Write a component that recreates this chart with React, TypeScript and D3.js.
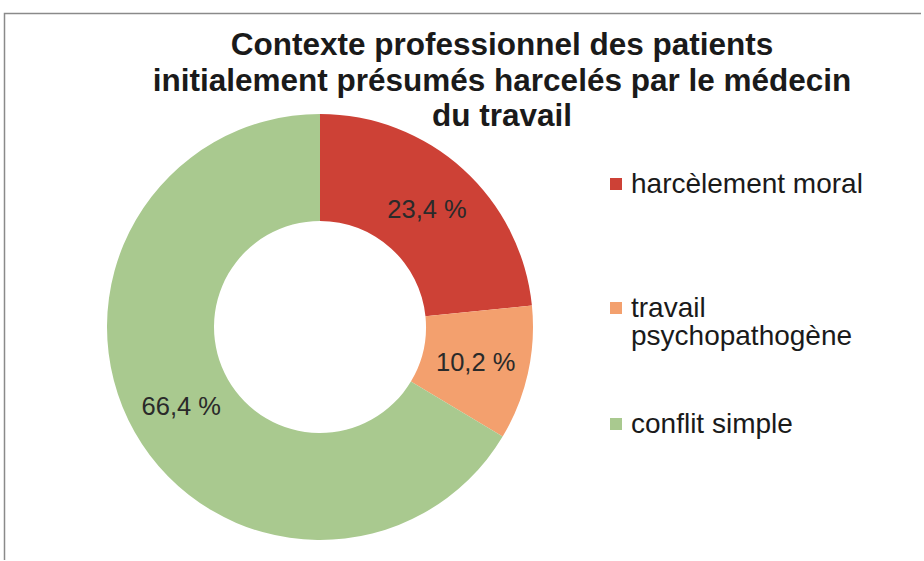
import React, { useEffect, useRef } from "react";
import * as d3 from "d3";

const categories = ["harcèlement moral", "travail psychopathogène", "conflit simple"];
const values = [23.4, 10.2, 66.4];
const labels = ["23,4 %", "10,2 %", "66,4 %"];
const colors = ["#cd4136", "#f3a06e", "#a9c98f"];
const legendLines = [["harcèlement moral"], ["travail", "psychopathogène"], ["conflit simple"]];
const titleLines = [
  "Contexte professionnel des patients",
  "initialement présumés harcelés par le médecin",
  "du travail",
];

export default function App() {
  const ref = useRef<SVGSVGElement>(null);
  useEffect(() => {
    const svg = d3.select(ref.current);
    svg.selectAll("*").remove();
    const W = 924, H = 561;
    svg.append("rect").attr("width", W).attr("height", H).attr("fill", "#fff");
    // frame
    svg.append("path")
      .attr("d", "M4.5,560 L4.5,13.5 L921,13.5")
      .attr("fill", "none").attr("stroke", "#8a8a8a").attr("stroke-width", 1.5);

    const font = "'Liberation Sans', Arial, sans-serif";
    const title = svg.append("text").attr("text-anchor", "middle")
      .attr("font-family", font).attr("font-weight", "bold").attr("font-size", 31.5).attr("fill", "#1a1a1a");
    titleLines.forEach((t, i) => {
      title.append("tspan").attr("x", 502).attr("y", 55 + i * 35.5).text(t);
    });

    const cx = 320, cy = 327, rO = 213, rI = 106;
    const pie = d3.pie<number>().sort(null).value((d) => d);
    const arc = d3.arc<d3.PieArcDatum<number>>().innerRadius(rI).outerRadius(rO);
    const g = svg.append("g").attr("transform", `translate(${cx},${cy})`);
    const arcs = pie(values);
    g.selectAll("path").data(arcs).enter().append("path")
      .attr("d", arc as any)
      .attr("fill", (_, i) => colors[i]);
    g.selectAll("text").data(arcs).enter().append("text")
      .attr("transform", (d) => `translate(${arc.centroid(d)})`)
      .attr("text-anchor", "middle").attr("dy", "0.36em")
      .attr("font-family", font).attr("font-size", 25.5).attr("fill", "#2a2a2a")
      .text((_, i) => labels[i]);

    const legY = [193, 317, 433];
    legendLines.forEach((lines, i) => {
      svg.append("rect").attr("x", 610).attr("y", legY[i] - 15).attr("width", 12).attr("height", 12)
        .attr("fill", colors[i]);
      const t = svg.append("text").attr("font-family", font).attr("font-size", 28).attr("fill", "#1a1a1a");
      lines.forEach((l, j) => {
        t.append("tspan").attr("x", 631).attr("y", legY[i] + j * 28).text(l);
      });
    });
  }, []);
  return (
    <svg ref={ref} width={924} height={561}
      style={{ position: "absolute", left: 0, top: 0, display: "block" }} />
  );
}
